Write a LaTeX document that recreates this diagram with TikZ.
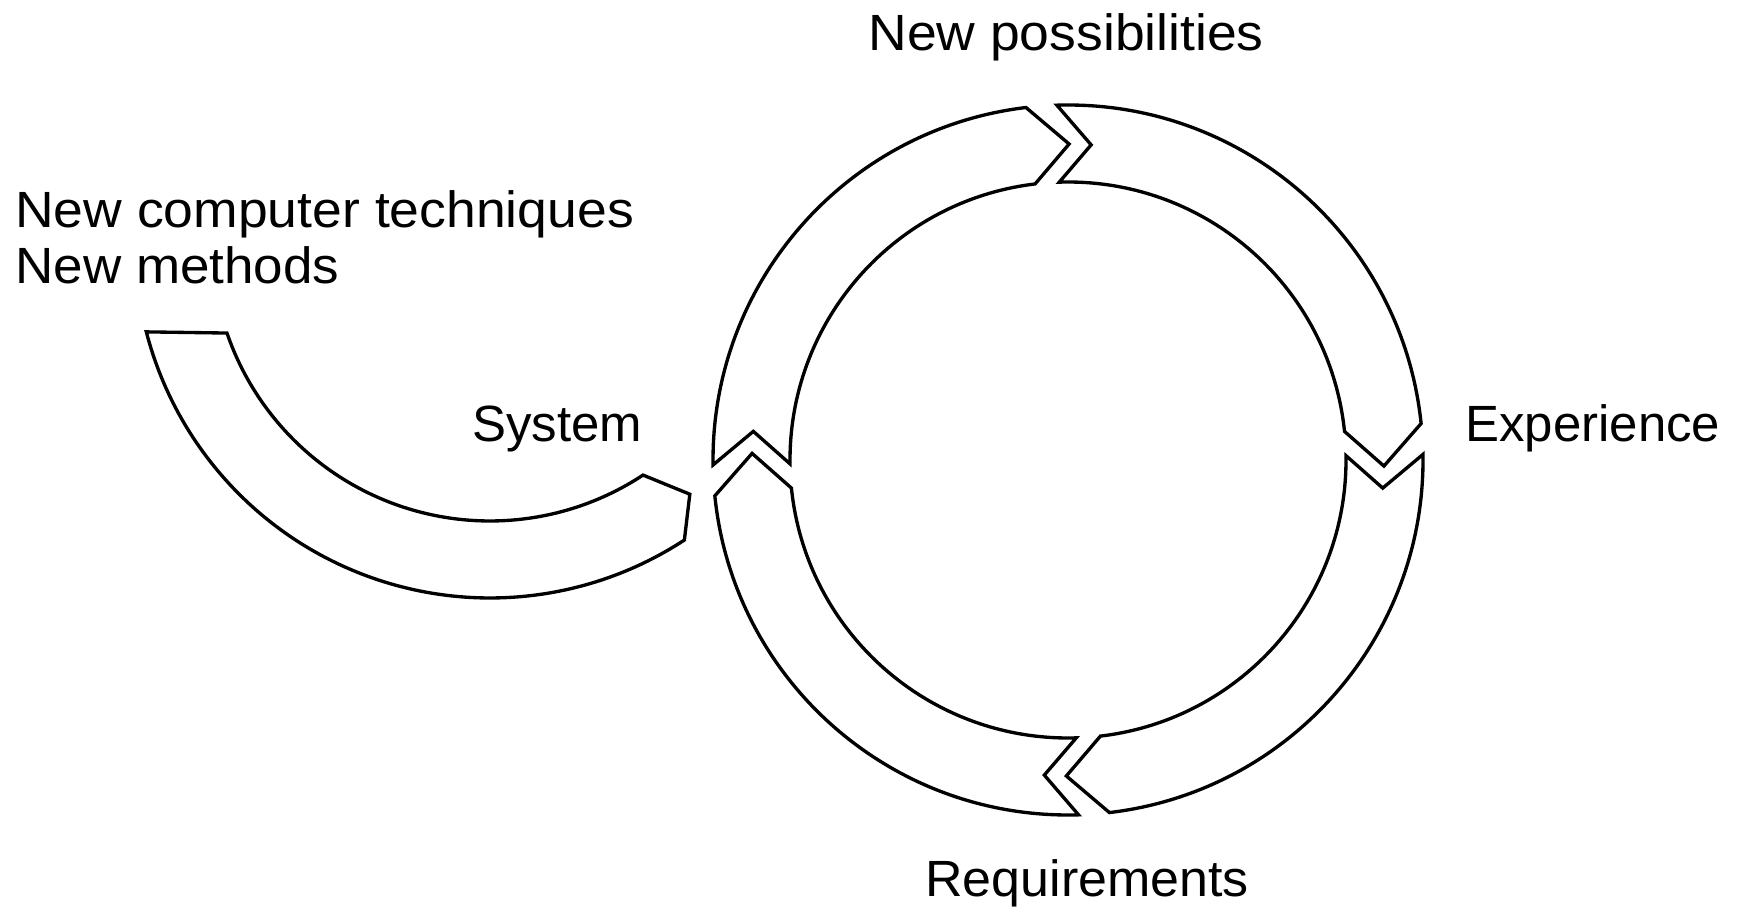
\documentclass[tikz,border=0pt]{standalone}
\usepackage{fontspec}
\setmainfont{Liberation Sans}
\usetikzlibrary{calc}
\begin{document}
\begin{tikzpicture}[x=0.02cm,y=0.02cm,
  band/.style={draw=black,line width=1.9pt,line join=miter,fill=white},
  lbl/.style={font=\fontsize{29pt}{35pt}\selectfont,anchor=base west,inner sep=0pt,transform shape}]
\useasboundingbox[fill=white] (0,0) rectangle (1748,907);
% ring arrows
\def\Ro{355}\def\Ri{278}\def\Rm{316}
\begin{scope}[shift={(1068,447)}]
\coordinate (C) at (0,0);
% left-top arrow
\draw[band] (180.8:\Ro) arc[start angle=180.8,end angle=96.8,radius=\Ro] -- (89.8:\Rm) -- (96.8:\Ri) arc[start angle=96.8,end angle=180.8,radius=\Ri] -- (174.8:\Rm) -- cycle;
% top-right arrow
\draw[band] (91.8:\Ro) arc[start angle=91.8,end angle=5.9,radius=\Ro] -- (-1.1:\Rm) -- (5.9:\Ri) arc[start angle=5.9,end angle=91.8,radius=\Ri] -- (85.8:\Rm) -- cycle;
% right-bottom arrow
\draw[band] (0.9:\Ro) arc[start angle=0.9,end angle=-83.3,radius=\Ro] -- (-90.3:\Rm) -- (-83.3:\Ri) arc[start angle=-83.3,end angle=0.9,radius=\Ri] -- (-5.1:\Rm) -- cycle;
% bottom-left arrow
\draw[band] (-88.3:\Ro) arc[start angle=-88.3,end angle=-174.2,radius=\Ro] -- (-181.2:\Rm) -- (-174.2:\Ri) arc[start angle=-174.2,end angle=-88.3,radius=\Ri] -- (-94.3:\Rm) -- cycle;
\end{scope}
% system arc
\begin{scope}[shift={(490,664)}]
\draw[band] (194.5:355) arc[start angle=194.5,end angle=303.2,radius=355] -- (308.5:321) -- (303.4:278) arc[start angle=303.4,end angle=198.9,radius=278] -- cycle;
\end{scope}
% labels
\node[lbl,xscale=1.05] (np) at (868,856) {New possibilities};
\node[lbl,xscale=1.05] (nct) at (15,679) {New computer techniques};
\node[lbl,xscale=1.04] (nm) at (15,623) {New methods};
\node[lbl] (sys) at (472,465) {System};
\node[lbl] (exp) at (1465,465) {Experience};
\node[lbl,xscale=1.02] (req) at (925,11) {Requirements};
\end{tikzpicture}
\end{document}
